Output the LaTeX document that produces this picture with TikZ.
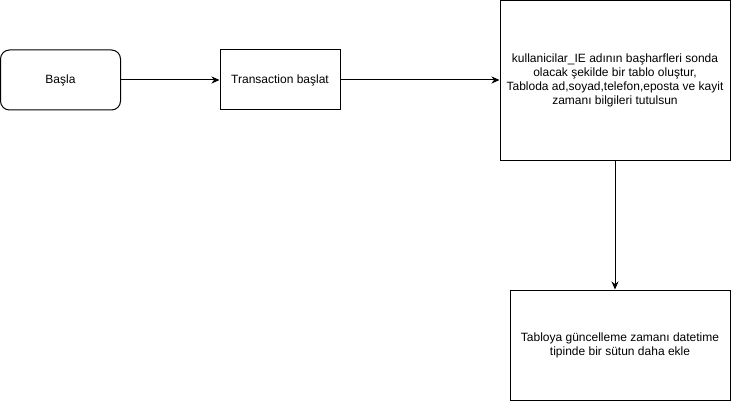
\documentclass[tikz,border=0pt]{standalone}
\usepackage{fontspec}
\setmainfont{Liberation Sans}
\usetikzlibrary{arrows.meta}

\begin{document}
\begin{tikzpicture}
[x=1pt,y=-1pt,line width=1pt,
 every node/.style={font=\fontsize{12}{14}\selectfont,align=center,inner sep=0pt},
 start/.style={shape=rectangle,draw,rounded corners=9pt,minimum width=120pt,minimum height=60pt},
 process/.style={shape=rectangle,draw,minimum width=120pt,minimum height=60pt},
 flow/.style={-{Stealth[length=8pt,width=7pt,inset=2.5pt]}}]

\useasboundingbox (0,0) rectangle (731,401);

\node (basla) [start] at (60.5,80) {Başla};
\node (trans) [process] at (280,80) {Transaction başlat};
\node (tablo) [process,minimum width=230pt,minimum height=160pt] at (615,80.5)
	{kullanicilar\_IE adının başharfleri sonda\\olacak şekilde bir tablo oluştur,\\Tabloda ad,soyad,telefon,eposta ve kayit\\zamanı bilgileri tutulsun};
\node (sutun) [process,minimum width=220pt,minimum height=110pt] at (620,345)
	{Tabloya güncelleme zamanı datetime\\tipinde bir sütun daha ekle};

\draw [flow] (basla) -- (trans);
\draw [flow] (trans) -- (trans -| tablo.west);
\draw [flow] (tablo.south) -- (tablo.south |- sutun.north);
\end{tikzpicture}
\end{document}
